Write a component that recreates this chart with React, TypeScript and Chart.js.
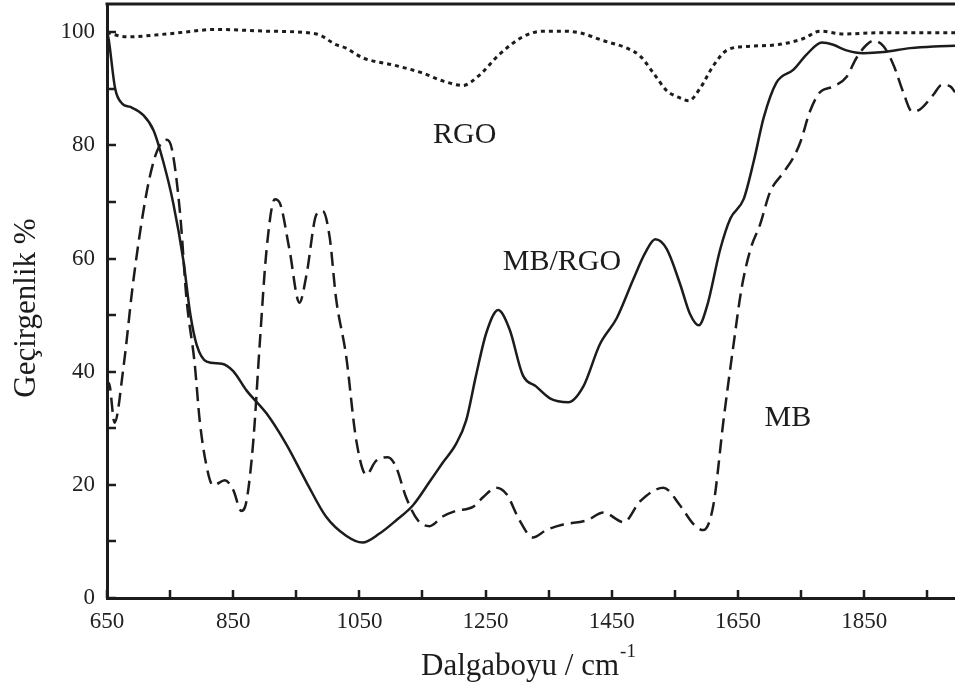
import { useEffect, useRef } from "react";
import { Chart, registerables } from "chart.js";

Chart.register(...registerables);

// Wavenumber (cm^-1) and transmittance (%) for each spectrum
const mbRgoWave = [650, 653, 663, 674, 687, 708, 724, 739, 755, 771, 782, 792, 808, 832, 850, 871, 903, 934, 966, 997, 1029, 1055, 1082, 1108, 1135, 1161, 1182, 1203, 1219, 1235, 1251, 1270, 1288, 1309, 1330, 1352, 1381, 1405, 1431, 1458, 1484, 1503, 1519, 1537, 1558, 1574, 1588, 1601, 1622, 1638, 1659, 1675, 1691, 1711, 1738, 1759, 1783, 1801, 1822, 1849, 1881, 1923, 1960, 1994];
const mbRgoT = [100.3, 98.5, 90, 87.4, 86.8, 85.3, 82.6, 77.2, 69.8, 59.7, 50.2, 44.8, 41.8, 41.4, 40.1, 36.7, 32.6, 27.2, 20.5, 14.4, 11, 9.8, 11.4, 13.7, 16.4, 20.5, 23.9, 27.2, 31.3, 39.4, 46.8, 50.9, 47.5, 39.4, 37.4, 35.3, 34.6, 37.4, 44.8, 49.5, 56.3, 61, 63.4, 61.7, 55.6, 50.2, 48.2, 51.6, 61.7, 67.1, 70.5, 77.2, 85, 91.1, 93.4, 96.1, 98.2, 97.8, 96.8, 96.3, 96.5, 97.2, 97.5, 97.6];

const mbWave = [650, 653, 662, 676, 692, 713, 729, 745, 753, 766, 776, 789, 797, 808, 818, 837, 850, 863, 871, 882, 892, 903, 916, 924, 939, 955, 966, 982, 992, 1003, 1013, 1029, 1045, 1061, 1076, 1095, 1108, 1124, 1143, 1161, 1182, 1203, 1230, 1246, 1267, 1283, 1304, 1325, 1346, 1373, 1410, 1437, 1469, 1495, 1532, 1558, 1580, 1595, 1611, 1627, 1643, 1656, 1670, 1685, 1701, 1722, 1738, 1749, 1764, 1780, 1801, 1822, 1838, 1854, 1865, 1881, 1897, 1912, 1926, 1939, 1960, 1973, 1987, 1994];
const mbT = [37, 38, 31, 40.7, 56.3, 71.8, 78.9, 81, 79.3, 67.8, 52.9, 41.4, 31.3, 23.2, 19.9, 20.8, 19.1, 15.4, 17.1, 27.9, 44.8, 61.7, 70.5, 69.8, 61.7, 52.2, 57, 67.8, 68.4, 63.7, 53, 42.8, 27.9, 21.8, 24.2, 24.9, 23.2, 17.8, 13.7, 12.7, 14.4, 15.4, 16.1, 17.8, 19.5, 18.4, 13.7, 10.7, 12, 13, 13.7, 15.1, 13.4, 17.1, 19.5, 16.4, 13, 12, 16.4, 31.3, 44.8, 54.9, 61.7, 66, 71.8, 75.2, 77.9, 80.6, 86, 89.4, 90.4, 92.1, 95.5, 97.8, 98.5, 97.5, 94.1, 89.4, 86, 86.4, 89, 90.7, 90.4, 89.4];

const rgoWave = [650, 655, 682, 745, 824, 903, 982, 1013, 1029, 1055, 1108, 1150, 1182, 1214, 1240, 1272, 1309, 1341, 1373, 1400, 1437, 1474, 1495, 1516, 1537, 1558, 1572, 1590, 1611, 1632, 1664, 1712, 1754, 1780, 1817, 1870, 1923, 1994];
const rgoT = [100, 99.8, 99.2, 99.7, 100.5, 100.2, 99.7, 97.8, 97.2, 95.5, 94.1, 92.8, 91.4, 90.6, 92.4, 96.1, 99.2, 100.2, 100.2, 99.9, 98.5, 97.2, 95.8, 92.8, 89.7, 88.4, 87.9, 90.1, 94.1, 96.8, 97.5, 97.8, 98.9, 100.2, 99.7, 99.9, 99.9, 99.9];

// Axis ticks
const xTickValues = [650, 750, 850, 950, 1050, 1150, 1250, 1350, 1450, 1550, 1650, 1750, 1850, 1950];
const xLabelValues = [650, 850, 1050, 1250, 1450, 1650, 1850];
const yTickValues = [0, 10, 20, 30, 40, 50, 60, 70, 80, 90, 100];
const yLabelValues = [0, 20, 40, 60, 80, 100];

// Curve names placed beside their traces (wavenumber, transmittance)
const curveNames = ["RGO", "MB/RGO", "MB"];
const curveNameWave = [1217, 1371, 1729];
const curveNameT = [81.8, 59.4, 31.8];

const yTitle = "Geçirgenlik %";
const xTitle = "Dalgaboyu / cm";
const xTitleSup = "-1";

const SERIF = '"Liberation Serif", "Times New Roman", serif';
const INK = "#1c1c1c";

const toPoints = (xs: number[], ys: number[]) => xs.map((x, i) => ({ x, y: ys[i] }));

const framePlugin = {
  id: "frame",
  afterDraw(chart: any) {
    const { ctx, chartArea: a, scales } = chart;
    const xs = scales.x;
    const ys = scales.y;
    ctx.save();
    ctx.strokeStyle = INK;
    ctx.lineCap = "butt";

    // inward tick marks
    ctx.lineWidth = 2.5;
    ctx.beginPath();
    for (const v of xTickValues) {
      const p = Math.round(xs.getPixelForValue(v));
      ctx.moveTo(p, a.bottom);
      ctx.lineTo(p, a.bottom - 8);
    }
    for (const v of yTickValues) {
      const p = Math.round(ys.getPixelForValue(v));
      ctx.moveTo(a.left, p);
      ctx.lineTo(a.left + 9, p);
    }
    ctx.stroke();

    // top frame line
    ctx.lineWidth = 3;
    ctx.beginPath();
    ctx.moveTo(a.left - 1.5, a.top);
    ctx.lineTo(a.right, a.top);
    ctx.stroke();

    // curve names
    ctx.fillStyle = INK;
    ctx.font = `30px ${SERIF}`;
    ctx.textAlign = "center";
    ctx.textBaseline = "middle";
    curveNames.forEach((t, i) => {
      ctx.fillText(t, xs.getPixelForValue(curveNameWave[i]), ys.getPixelForValue(curveNameT[i]));
    });

    // y axis title
    ctx.save();
    ctx.translate(27, (a.top + a.bottom) / 2 + 7);
    ctx.rotate(-Math.PI / 2);
    ctx.font = `31px ${SERIF}`;
    ctx.fillText(yTitle, 0, 0);
    ctx.restore();

    // x axis title with superscript
    ctx.textAlign = "left";
    ctx.textBaseline = "alphabetic";
    ctx.font = `31px ${SERIF}`;
    const w1 = ctx.measureText(xTitle).width;
    ctx.font = `19px ${SERIF}`;
    const w2 = ctx.measureText(xTitleSup).width;
    const x0 = (a.left + a.right) / 2 - 3 - (w1 + w2) / 2;
    ctx.font = `31px ${SERIF}`;
    ctx.fillText(xTitle, x0, a.bottom + 77);
    ctx.font = `19px ${SERIF}`;
    ctx.fillText(xTitleSup, x0 + w1 + 1, a.bottom + 59);
    ctx.restore();
  },
};

export default function App() {
  const canvasRef = useRef<HTMLCanvasElement | null>(null);

  useEffect(() => {
    const canvas = canvasRef.current;
    if (!canvas) return;
    const lineBase = {
      borderColor: INK,
      borderWidth: 2.5,
      pointRadius: 0,
      fill: false,
      cubicInterpolationMode: "monotone" as const,
    };
    const chart = new Chart(canvas, {
      type: "line",
      data: {
        datasets: [
          { ...lineBase, label: "RGO", data: toPoints(rgoWave, rgoT), borderDash: [4, 4], borderWidth: 3 },
          { ...lineBase, label: "MB", data: toPoints(mbWave, mbT), borderDash: [14, 7] },
          { ...lineBase, label: "MB/RGO", data: toPoints(mbRgoWave, mbRgoT) },
        ],
      },
      options: {
        animation: false,
        responsive: false,
        devicePixelRatio: 1,
        layout: { padding: { top: 4, right: 0, left: 0, bottom: 0 } },
        plugins: {
          legend: { display: false },
          tooltip: { enabled: false },
        },
        scales: {
          x: {
            type: "linear",
            min: 650,
            max: 1994,
            afterBuildTicks: (scale: any) => {
              scale.ticks = xTickValues.map((value) => ({ value }));
            },
            afterFit: (scale: any) => {
              scale.height = 91;
              scale.paddingLeft = 0;
              scale.paddingRight = 0;
            },
            grid: { display: false, drawTicks: false },
            border: { display: true, color: INK, width: 3 },
            ticks: {
              autoSkip: false,
              maxRotation: 0,
              padding: 10,
              color: "#222",
              font: { family: SERIF, size: 23 },
              callback: (v: any) => (xLabelValues.includes(Number(v)) ? String(v) : ""),
            },
          },
          y: {
            type: "linear",
            min: 0,
            max: 105,
            afterBuildTicks: (scale: any) => {
              scale.ticks = yTickValues.map((value) => ({ value }));
            },
            afterFit: (scale: any) => {
              scale.width = 107;
              scale.paddingTop = 0;
              scale.paddingBottom = 0;
            },
            grid: { display: false, drawTicks: false },
            border: { display: true, color: INK, width: 3 },
            ticks: {
              autoSkip: false,
              padding: 12,
              color: "#222",
              font: { family: SERIF, size: 23 },
              callback: (v: any) => (yLabelValues.includes(Number(v)) ? String(v) : ""),
            },
          },
        },
      },
      plugins: [framePlugin],
    });
    return () => chart.destroy();
  }, []);

  return (
    <div style={{ position: "absolute", left: 0, top: 0, width: 955, height: 689, background: "#fff" }}>
      <canvas ref={canvasRef} width={955} height={689} style={{ display: "block" }} />
    </div>
  );
}
